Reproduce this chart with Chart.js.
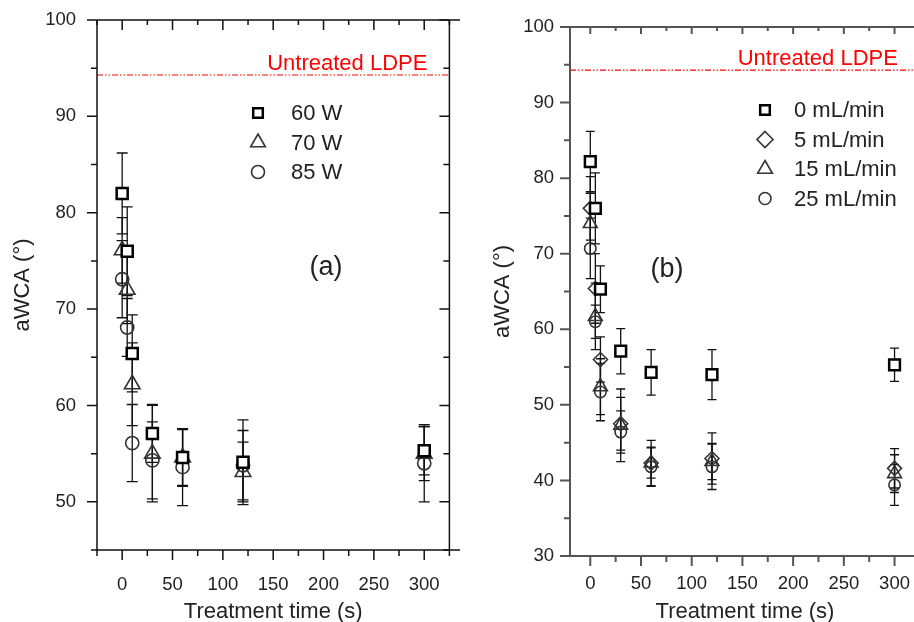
<!DOCTYPE html>
<html><head><meta charset="utf-8">
<script src="https://cdn.jsdelivr.net/npm/chart.js@4.4.1/dist/chart.umd.min.js"></script>
<style>
html,body{margin:0;padding:0;background:#fff;overflow:hidden;width:914px;height:622px;position:relative}
canvas{position:absolute;top:0}
#ca{left:0}
#cb{left:460px}
</style></head><body>
<canvas id="ca" width="460" height="622"></canvas>
<canvas id="cb" width="470" height="622"></canvas>
<script>
// ---------- data ----------
const times = [0, 5, 10, 30, 60, 120, 300];
const untreatedLDPE = 94.3;
const refLabel = 'Untreated LDPE';

// panel (a): plasma power
const powerLabels = ['60 W', '70 W', '85 W'];
const w60 = [82.0, 76.0, 65.4, 57.1, 54.6, 54.1, 55.3];
const w60Err = [4.2, 4.6, 4.0, 3.0, 2.9, 4.4, 2.5];
const w70 = [76.1, 72.0, 62.2, 55.0, 54.6, 53.1, 55.0];
const w70Err = [3.4, 3.5, 4.3, 5.0, 3.0, 3.1, 2.8];
const w85 = [73.1, 68.1, 56.1, 54.3, 53.6, 53.8, 54.0];
const w85Err = [4.0, 3.0, 4.0, 4.0, 4.0, 3.6, 4.0];

// panel (b): gas flow
const flowLabels = ['0 mL/min', '5 mL/min', '15 mL/min', '25 mL/min'];
const f0 = [82.2, 76.0, 65.3, 57.1, 54.3, 54.0, 55.3];
const f0Err = [4.0, 4.7, 3.1, 3.0, 3.0, 3.3, 2.2];
const f5 = [76.0, 65.4, 56.0, 47.5, 42.3, 42.9, 41.6];
const f5Err = [4.2, 4.6, 3.0, 3.5, 3.0, 3.4, 2.6];
const f15 = [74.0, 61.7, 52.4, 47.3, 42.3, 42.5, 40.9];
const f15Err = [4.0, 4.4, 3.7, 4.8, 2.0, 2.4, 2.5];
const f25 = [70.7, 61.0, 51.7, 46.4, 41.8, 41.8, 39.4];
const f25Err = [4.0, 2.2, 3.8, 2.8, 2.6, 3.0, 2.7];

// ticks
const xTicksA = [-25, 0, 25, 50, 75, 100, 125, 150, 175, 200, 225, 250, 275, 300, 325];
const xTicksB = [0, 25, 50, 75, 100, 125, 150, 175, 200, 225, 250, 275, 300, 325];
const yTicksA = [45, 50, 55, 60, 65, 70, 75, 80, 85, 90, 95, 100];
const yTicksB = [30, 35, 40, 45, 50, 55, 60, 65, 70, 75, 80, 85, 90, 95, 100];

const xTitle = 'Treatment time (s)';
const yTitle = 'aWCA (°)';
const FONT = "'Liberation Sans', Arial, Helvetica, sans-serif";
const TXT = '#222';

// ---------- helpers ----------
const pts = vals => times.map((t, i) => ({x: t, y: vals[i]}));

function shapePath(ctx, style, x, y, r) {
  ctx.beginPath();
  if (style === 'rect') {
    const s = Math.SQRT1_2 * r; ctx.rect(x - s, y - s, 2 * s, 2 * s);
  } else if (style === 'triangle') {
    let a = 0;
    for (let k = 0; k < 3; k++) {
      const px = x + Math.sin(a) * r, py = y - Math.cos(a) * r;
      k ? ctx.lineTo(px, py) : ctx.moveTo(px, py);
      a += Math.PI * 2 / 3;
    }
    ctx.closePath();
  } else if (style === 'rectRot') {
    ctx.moveTo(x, y - r); ctx.lineTo(x + r, y); ctx.lineTo(x, y + r); ctx.lineTo(x - r, y); ctx.closePath();
  } else {
    ctx.arc(x, y, r, 0, Math.PI * 2);
  }
}

const errorBars = {
  id: 'errorBars',
  beforeDatasetsDraw(chart, args, opts) {
    const {ctx, scales: {x, y}} = chart;
    ctx.save();
    ctx.strokeStyle = opts.color; ctx.lineWidth = opts.width;
    chart.data.datasets.forEach(ds => {
      if (!ds.errors) return;
      ds.data.forEach((p, i) => {
        const e = ds.errors[i];
        const px = x.getPixelForValue(p.x);
        const yt = y.getPixelForValue(p.y + e), yb = y.getPixelForValue(p.y - e);
        ctx.beginPath();
        ctx.moveTo(px, yt); ctx.lineTo(px, yb);
        ctx.moveTo(px - opts.cap, yt); ctx.lineTo(px + opts.cap, yt);
        ctx.moveTo(px - opts.cap, yb); ctx.lineTo(px + opts.cap, yb);
        ctx.stroke();
      });
    });
    ctx.restore();
  }
};

const frame = {
  id: 'frame',
  afterDraw(chart, args, o) {
    const {ctx, chartArea: {left, right, top, bottom}, scales: {x, y}} = chart;
    ctx.save();
    ctx.strokeStyle = o.color; ctx.lineWidth = o.width;
    ctx.beginPath();
    ctx.moveTo(left, top); ctx.lineTo(right + 20, top);
    ctx.moveTo(left, top); ctx.lineTo(left, bottom); ctx.lineTo(right + 20, bottom);
    if (o.rightEdge) { ctx.moveTo(right, top); ctx.lineTo(right, bottom); }
    ctx.stroke();
    ctx.beginPath();
    x.ticks.forEach(t => {
      const px = x.getPixelForValue(t.value);
      const major = t.value % 50 === 0;
      ctx.moveTo(px, bottom); ctx.lineTo(px, bottom + (major ? o.major : o.minor));
      ctx.moveTo(px, top); ctx.lineTo(px, top + (major ? o.topMajor : o.topMinor));
    });
    y.ticks.forEach(t => {
      const py = y.getPixelForValue(t.value);
      const major = t.value % 10 === 0;
      ctx.moveTo(left - (major ? o.major : o.minor), py); ctx.lineTo(left, py);
      if (o.rightEdge) { ctx.moveTo(right, py); ctx.lineTo(right - (major ? o.major : o.minor), py); }
    });
    ctx.stroke();
    ctx.restore();
  }
};

const extras = {
  id: 'extras',
  afterDatasetsDraw(chart, args, o) {
    const {ctx, chartArea: {right}, scales: {y}} = chart;
    ctx.save();
    ctx.fillStyle = '#ff0000';
    ctx.font = '22px ' + FONT;
    ctx.textAlign = 'right'; ctx.textBaseline = 'alphabetic';
    ctx.fillText(refLabel, right - o.refRight, y.getPixelForValue(untreatedLDPE) - o.refGap);
    ctx.fillStyle = TXT;
    ctx.font = '27px ' + FONT;
    ctx.textAlign = 'center'; ctx.textBaseline = 'middle';
    ctx.fillText(o.letter, o.letterX, o.letterY);
    ctx.font = '22px ' + FONT;
    ctx.textAlign = 'left';
    let row = 0;
    chart.data.datasets.forEach(ds => {
      if (!ds.legendR) return;
      const ly = o.legY + row * o.legDy;
      ctx.lineWidth = ds.pointBorderWidth;
      ctx.strokeStyle = ds.pointBorderColor;
      ctx.fillStyle = '#fff';
      shapePath(ctx, ds.pointStyle, o.legX, ly, ds.legendR);
      ctx.fill(); ctx.stroke();
      ctx.fillStyle = TXT;
      ctx.fillText(ds.label, o.legTextX, ly + 1);
      row++;
    });
    ctx.restore();
  }
};

function series(label, vals, errs, style, r, bw, color, legendR, fill, order) {
  return {
    type: 'scatter', label, data: pts(vals), errors: errs,
    pointStyle: style, pointRadius: r, pointHoverRadius: r,
    pointBorderWidth: bw, pointBorderColor: color,
    pointBackgroundColor: fill, showLine: false, legendR, order
  };
}

function refLine(xmin, xmax) {
  return {
    type: 'line', label: refLabel,
    data: [{x: xmin, y: untreatedLDPE}, {x: xmax, y: untreatedLDPE}],
    borderColor: '#ff0000', borderWidth: 1.1, borderDash: [6, 2, 1.5, 2, 1.5, 2],
    pointRadius: 0, order: 10
  };
}

function zeroPad(s) { s.paddingTop = 0; s.paddingBottom = 0; s.paddingLeft = 0; s.paddingRight = 0; }

function makeOptions(cfg) {
  return {
    responsive: false, animation: false, devicePixelRatio: 1,
    layout: {padding: cfg.padding},
    plugins: {
      legend: {display: false}, tooltip: {enabled: false},
      errorBars: cfg.err, frame: cfg.frame, extras: cfg.extras
    },
    scales: {
      x: {
        type: 'linear', min: cfg.xmin, max: cfg.xmax,
        afterBuildTicks: s => { s.ticks = cfg.xTicks.map(v => ({value: v})); },
        afterFit: s => { s.height = cfg.xHeight; zeroPad(s); },
        grid: {display: false, drawTicks: false}, border: {display: false},
        ticks: {autoSkip: false, maxRotation: 0, padding: cfg.xPad, color: TXT,
          font: {family: FONT, size: 18.5},
          callback: v => (v % 50 === 0 && v >= 0 && v <= 300) ? String(v) : ''},
        title: {display: true, text: xTitle, color: TXT, font: {family: FONT, size: 22},
          padding: {top: 0, bottom: cfg.xTitlePad}}
      },
      y: {
        type: 'linear', min: cfg.ymin, max: cfg.ymax,
        afterBuildTicks: s => { s.ticks = cfg.yTicks.map(v => ({value: v})); },
        afterFit: s => { s.width = cfg.yWidth; zeroPad(s); },
        grid: {display: false, drawTicks: false}, border: {display: false},
        ticks: {autoSkip: false, padding: cfg.yPad, color: TXT,
          font: {family: FONT, size: 18.5},
          callback: v => v % 10 === 0 ? String(v) : ''},
        title: {display: true, text: yTitle, color: TXT, font: {family: FONT, size: 22},
          padding: {top: cfg.yTitlePad, bottom: 0}}
      }
    }
  };
}

// ---------- panel (a) ----------
new Chart(document.getElementById('ca'), {
  data: {
    datasets: [
      series(powerLabels[0], w60, w60Err, 'rect', 7.8, 2.5, '#000', 6.8, '#fff', 1),
      series(powerLabels[1], w70, w70Err, 'triangle', 9, 1.6, '#333', 8.5, 'rgba(255,255,255,0)', 2),
      series(powerLabels[2], w85, w85Err, 'circle', 6.6, 1.6, '#333', 6.5, 'rgba(255,255,255,0)', 3),
      refLine(-25, 325)
    ]
  },
  options: makeOptions({
    padding: {top: 20, right: 10, bottom: 0, left: 0},
    xmin: -25, xmax: 325, ymin: 45, ymax: 100,
    xTicks: xTicksA, yTicks: yTicksA,
    xHeight: 72, yWidth: 97, xPad: 24, yPad: 21, xTitlePad: -3, yTitlePad: 10,
    err: {color: '#111', width: 1.3, cap: 5.5},
    frame: {color: '#111', width: 1.5, major: 10, minor: 6, topMajor: 10, topMinor: 5, rightEdge: true},
    extras: {refRight: 22, refGap: 4.5, letter: '(a)', letterX: 326, letterY: 268,
      legX: 258, legY: 113, legDy: 29.5, legTextX: 291}
  }),
  plugins: [errorBars, frame, extras]
});

// ---------- panel (b) ----------
new Chart(document.getElementById('cb'), {
  data: {
    datasets: [
      series(flowLabels[0], f0, f0Err, 'rect', 7.6, 2.5, '#000', 6.8, '#fff', 1),
      series(flowLabels[1], f5, f5Err, 'rectRot', 7, 1.6, '#333', 8, 'rgba(255,255,255,0)', 2),
      series(flowLabels[2], f15, f15Err, 'triangle', 8, 1.6, '#333', 8.5, 'rgba(255,255,255,0)', 3),
      series(flowLabels[3], f25, f25Err, 'circle', 5.7, 1.6, '#333', 6, 'rgba(255,255,255,0)', 4),
      refLine(-20, 325)
    ]
  },
  options: makeOptions({
    padding: {top: 27, right: 8, bottom: 0, left: 0},
    xmin: -20, xmax: 325, ymin: 30, ymax: 100,
    xTicks: xTicksB, yTicks: yTicksB,
    xHeight: 66, yWidth: 110, xPad: 17, yPad: 16, xTitlePad: -3, yTitlePad: 30,
    err: {color: '#111', width: 1.3, cap: 4.5},
    frame: {color: '#555', width: 2, major: 10, minor: 6, topMajor: 7, topMinor: 4, rightEdge: false},
    extras: {refRight: 22, refGap: 5, letter: '(b)', letterX: 207, letterY: 270,
      legX: 305, legY: 110, legDy: 29.5, legTextX: 334}
  }),
  plugins: [errorBars, frame, extras]
});
</script>
</body></html>
